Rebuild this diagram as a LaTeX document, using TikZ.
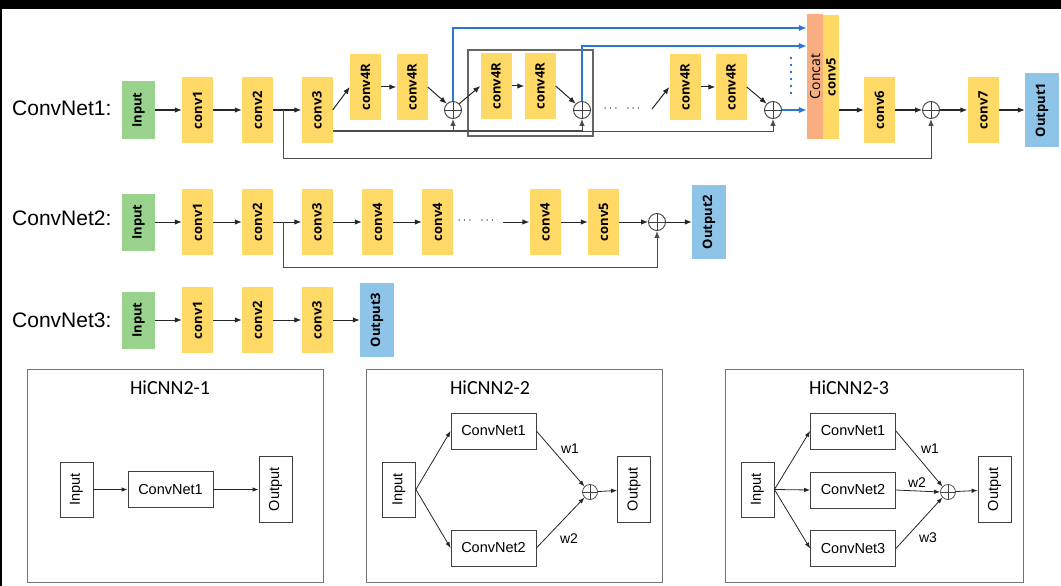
\documentclass[tikz,border=0pt]{standalone}
\usepackage{fontspec}
\setmainfont{Liberation Sans}
\newfontfamily\boxfont{Open Sans}
\newfontfamily\titlefont{Carlito}
\usepackage{graphicx}
\usepackage{tikz}
\usetikzlibrary{arrows.meta, positioning, calc}

\definecolor{convyel}{RGB}{255,217,102}
\definecolor{ingreen}{RGB}{152,210,140}
\definecolor{outblue}{RGB}{142,196,232}
\definecolor{catorange}{RGB}{248,174,128}
\definecolor{skipblue}{RGB}{40,120,210}
\newcommand{\vtext}[1]{\rotatebox{90}{#1}}

\begin{document}
\begin{tikzpicture}[
    x=1pt, y=-1pt,
    netlabel/.style={font=\fontsize{21}{25}\selectfont, anchor=west, inner sep=0},
    layer/.style={inner sep=0, font=\boxfont\bfseries\fontsize{13}{15}\selectfont},
    inbox/.style={layer, fill=ingreen, minimum width=33pt, minimum height=57pt},
    convbox/.style={layer, fill=convyel, minimum width=31pt, minimum height=66pt},
    outbox/.style={layer, fill=outblue, minimum width=34pt, minimum height=74pt},
    catbox/.style={inner sep=0, minimum width=16pt, minimum height=124pt, font=\boxfont\fontsize{14}{16}\selectfont},
    sumnode/.style={circle, draw=black!75, fill=white, minimum size=17pt, inner sep=0, line width=#1,
      path picture={\draw[black!75, line width=#1] (path picture bounding box.north) -- (path picture bounding box.south)
        (path picture bounding box.west) -- (path picture bounding box.east);}},
    sumnode/.default=0.9pt,
    dotsnode/.style={inner sep=0, font=\fontsize{13}{15}\selectfont},
    arrow/.style={-{Latex[length=7pt, width=5.5pt]}, line width=1pt, draw=black!85},
    skipline/.style={line width=1.1pt, draw=black!70},
    blueline/.style={-{Latex[length=8pt, width=6.5pt]}, line width=2.2pt, draw=skipblue},
    grpbox/.style={draw=black!60, line width=1.1pt},
    panel/.style={draw=black!55, line width=0.9pt},
    ptitle/.style={font=\titlefont\fontsize{20}{24}\selectfont},
    pbox/.style={draw=black!75, line width=0.8pt, fill=white, inner sep=0, font=\fontsize{14.5}{17}\selectfont},
    pin/.style={pbox, minimum width=33pt, minimum height=55pt},
    pnet/.style={pbox, minimum width=85pt, minimum height=36pt},
    pout/.style={pbox, minimum width=33pt, minimum height=66pt},
    psum/.style={sumnode=0.7pt, minimum size=15pt},
    parrow/.style={-{Latex[length=6pt, width=4.5pt]}, line width=0.8pt, draw=black!85},
    wlabel/.style={inner sep=0, font=\fontsize{14}{16}\selectfont}
  ]
    \useasboundingbox (0,0) rectangle (1061,586);
    \fill[black] (0,0) rectangle (1061,586);
    \fill[white] (2,9) rectangle (1061,586);

    % ConvNet1
    \node[netlabel] (lab1) at (12,108) {ConvNet1:};
    \node[inbox] (in1) at (138.5,110) {\vtext{Input}};
    \node[convbox] (c11) at (197.5,110) {\vtext{conv1}};
    \node[convbox] (c12) at (257.5,110) {\vtext{conv2}};
    \node[convbox] (c13) at (317,110) {\vtext{conv3}};
    \node[convbox, minimum height=65pt] (r1) at (365.5,87) {\vtext{conv4R}};
    \node[convbox, minimum height=65pt] (r2) at (412,87) {\vtext{conv4R}};
    \node[sumnode] (s1) at (453,110) {};
    \node[convbox, minimum height=65pt] (r3) at (496,86) {\vtext{conv4R}};
    \node[convbox, minimum height=65pt] (r4) at (540,86) {\vtext{conv4R}};
    \node[sumnode] (s2) at (582,110) {};
    \node[dotsnode] (dots1) at (622,109) {$\cdots\;\;\cdots$};
    \node[convbox, minimum height=65pt] (r5) at (685,87) {\vtext{conv4R}};
    \node[convbox, minimum height=65pt] (r6) at (731,87) {\vtext{conv4R}};
    \node[sumnode] (s3) at (773,110) {};
    \node[catbox, fill=catorange] (cat) at (815,76.5) {\vtext{Concat}};
    \node[catbox, fill=convyel, font=\boxfont\bfseries\fontsize{13}{15}\selectfont] (cv5) at (831,77) {\vtext{conv5}};
    \node[convbox] (c16) at (879.5,110) {\vtext{conv6}};
    \node[sumnode] (s4) at (931,110) {};
    \node[convbox] (c17) at (983,110) {\vtext{conv7}};
    \node[outbox] (out1) at (1042,110) {\vtext{Output1}};
    \coordinate (j1) at (283,110);
    \coordinate (d1) at (652,109);
    \draw[grpbox] (468,50) rectangle (593,136);

    \draw[arrow] (in1) -- (c11);
    \draw[arrow] (c11) -- (c12);
    \draw[arrow] (c12) -- (c13);
    \draw[arrow] (c13.east) -- (r1.west);
    \draw[arrow] (r1) -- (r2);
    \draw[arrow] (r2.east) -- (s1.north west);
    \draw[arrow] (s1.north east) -- (r3.west);
    \draw[arrow] (r3) -- (r4);
    \draw[arrow] (r4.east) -- (s2.north west);
    \draw[arrow] (d1) -- (r5.west);
    \draw[arrow] (r5) -- (r6);
    \draw[arrow] (r6.east) -- (s3.north west);
    \draw[arrow] (cv5.east |- c16) -- (c16.west);
    \draw[arrow] (c16) -- (s4);
    \draw[arrow] (s4) -- (c17);
    \draw[arrow] (c17) -- (out1);
    % skip connections
    \draw[skipline] (c13.east |- 0,131) -- (s2 |- 0,131);
    \draw[arrow, draw=black!70] (s1 |- 0,131) -- (s1.south);
    \draw[arrow, draw=black!70] (s2 |- 0,131) -- (s2.south);
    \draw[arrow, draw=black!70] (s2 |- 0,131) -| (s3.south);
    \draw[arrow, draw=black!70] (j1) -- (j1 |- 0,158) -| (s4.south);
    \draw[blueline] (s1.north) |- (cat.west |- 0,28);
    \draw[blueline] (s2.north) |- (cat.west |- 0,46);
    \draw[blueline] (s3.east) -- (s3 -| cat.west);
    \draw[skipblue, line width=2.4pt, dash pattern=on 2.2pt off 4.8pt] (791,57) -- (791,94);

    % ConvNet2
    \node[netlabel] (lab2) at (12,218) {ConvNet2:};
    \node[inbox] (in2) at (138.5,222) {\vtext{Input}};
    \node[convbox] (c21) at (197.5,222) {\vtext{conv1}};
    \node[convbox] (c22) at (257.5,222) {\vtext{conv2}};
    \node[convbox] (c23) at (317,222) {\vtext{conv3}};
    \node[convbox] (c24) at (377.5,222) {\vtext{conv4}};
    \node[convbox] (c25) at (437.5,222) {\vtext{conv4}};
    \node[dotsnode] (dots2) at (476,221) {$\cdots\;\;\cdots$};
    \node[convbox] (c26) at (545,222) {\vtext{conv4}};
    \node[convbox] (c27) at (603.5,222) {\vtext{conv5}};
    \node[sumnode] (s5) at (657,222) {};
    \node[outbox] (out2) at (709,222) {\vtext{Output2}};
    \coordinate (j2) at (283,222);
    \coordinate (d2) at (503,222);

    \draw[arrow] (in2) -- (c21);
    \draw[arrow] (c21) -- (c22);
    \draw[arrow] (c22) -- (c23);
    \draw[arrow] (c23) -- (c24);
    \draw[arrow] (c24) -- (c25);
    \draw[arrow] (d2) -- (c26);
    \draw[arrow] (c26) -- (c27);
    \draw[arrow] (c27) -- (s5);
    \draw[arrow] (s5) -- (out2);
    \draw[arrow, draw=black!70] (j2) -- (j2 |- 0,267) -| (s5.south);

    % ConvNet3
    \node[netlabel] (lab3) at (12,320) {ConvNet3:};
    \node[inbox] (in3) at (138.5,320) {\vtext{Input}};
    \node[convbox] (c31) at (197.5,320) {\vtext{conv1}};
    \node[convbox] (c32) at (257.5,320) {\vtext{conv2}};
    \node[convbox] (c33) at (317,320) {\vtext{conv3}};
    \node[outbox] (out3) at (377,320) {\vtext{Output3}};

    \draw[arrow] (in3) -- (c31);
    \draw[arrow] (c31) -- (c32);
    \draw[arrow] (c32) -- (c33);
    \draw[arrow] (c33) -- (out3);

    % HiCNN2-1
    \draw[panel] (27,369) rectangle (323,582);
    \node[ptitle] (t1) at (170,388) {HiCNN2-1};
    \node[pin] (pin1) at (76.5,489.5) {\vtext{Input}};
    \node[pnet] (pn11) at (170.5,489.5) {ConvNet1};
    \node[pout] (pout1) at (275.5,489.5) {\vtext{Output}};
    \draw[parrow] (pin1) -- (pn11);
    \draw[parrow] (pn11) -- (pout1);

    % HiCNN2-2
    \draw[panel] (366,369) rectangle (662,582);
    \node[ptitle] (t2) at (490,388) {HiCNN2-2};
    \node[pin] (pin2) at (399,489.5) {\vtext{Input}};
    \node[pnet] (pn21) at (493.5,431) {ConvNet1};
    \node[pnet] (pn22) at (493.5,548) {ConvNet2};
    \node[psum] (ps2) at (590,492) {};
    \node[pout] (pout2) at (634,489.5) {\vtext{Output}};
    \node[wlabel] (w21) at (570,449) {w1};
    \node[wlabel] (w22) at (569,539) {w2};
    \draw[parrow] (pin2.east) -- (pn21.west);
    \draw[parrow] (pin2.east) -- (pn22.west);
    \draw[parrow] (pn21.east) -- (ps2.north west);
    \draw[parrow] (pn22.east) -- (ps2.south west);
    \draw[parrow] (ps2) -- (pout2);

    % HiCNN2-3
    \draw[panel] (725,369) rectangle (1023,582);
    \node[ptitle] (t3) at (849,388) {HiCNN2-3};
    \node[pin] (pin3) at (757.5,489.5) {\vtext{Input}};
    \node[pnet] (pn31) at (853,431) {ConvNet1};
    \node[pnet] (pn32) at (853,490) {ConvNet2};
    \node[pnet] (pn33) at (853,548.5) {ConvNet3};
    \node[psum] (ps3) at (948,492) {};
    \node[pout] (pout3) at (994.5,489.5) {\vtext{Output}};
    \node[wlabel] (w31) at (930,449) {w1};
    \node[wlabel] (w32) at (917,483) {w2};
    \node[wlabel] (w33) at (928,538) {w3};
    \draw[parrow] (pin3.east) -- (pn31.west);
    \draw[parrow] (pin3.east) -- (pn32.west);
    \draw[parrow] (pin3.east) -- (pn33.west);
    \draw[parrow] (pn31.east) -- (ps3.north west);
    \draw[parrow] (pn32.east) -- (ps3.west);
    \draw[parrow] (pn33.east) -- (ps3.south west);
    \draw[parrow] (ps3) -- (pout3);
  \end{tikzpicture}
\end{document}
